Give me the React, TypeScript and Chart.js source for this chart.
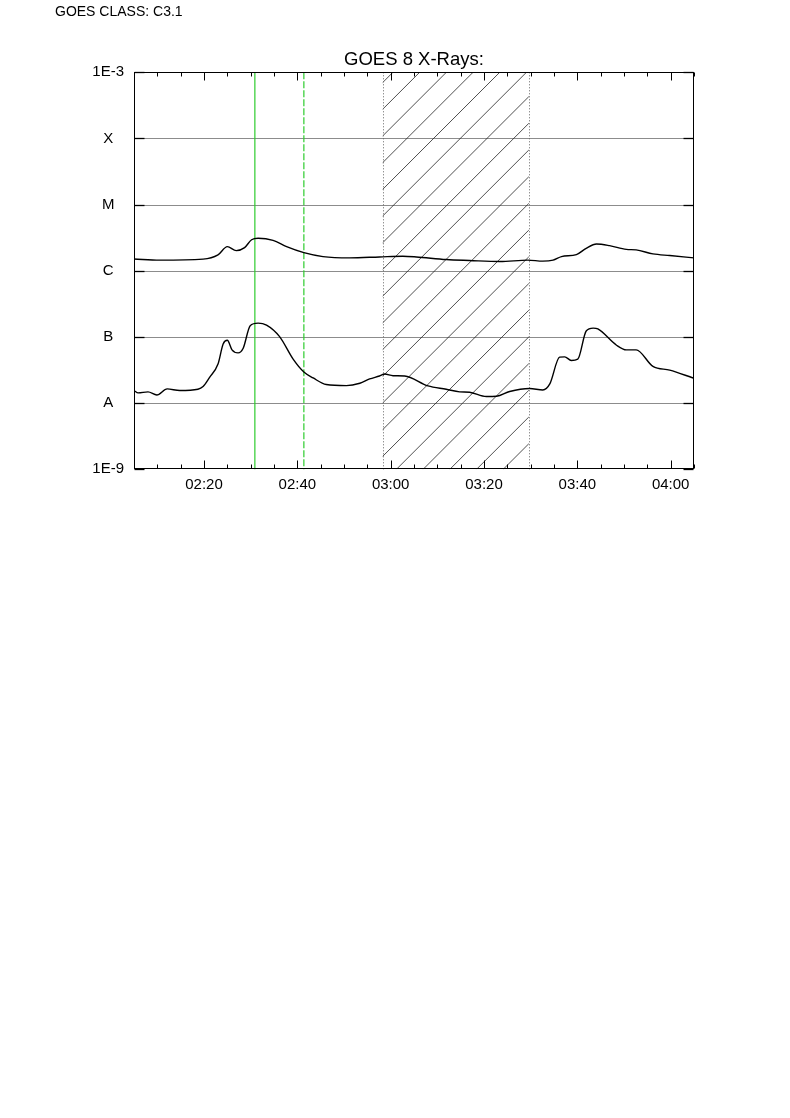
import { useEffect, useRef } from "react";
import { Chart, registerables } from "chart.js";

Chart.register(...registerables);

const FONT = '"Liberation Sans", Arial, Helvetica, sans-serif';

const classText = "GOES CLASS: C3.1";
const titleText = "GOES 8 X-Rays:";

// time axis in minutes after 00:00 UT
const xMin = 125; // 02:05
const xMax = 245; // 04:05
const xTickValues = [
  125, 130, 135, 140, 145, 150, 155, 160, 165, 170, 175, 180, 185,
  190, 195, 200, 205, 210, 215, 220, 225, 230, 235, 240, 245,
];
const xMajorTicks = [140, 160, 180, 200, 220, 240];

const yTickValues = [1e-9, 1e-8, 1e-7, 1e-6, 1e-5, 1e-4, 1e-3];
const yTickLabels = ["1E-9", "A", "B", "C", "M", "X", "1E-3"];

// long channel (1-8 A)
const longTimes = [
  125.0, 130.5, 139.8, 143.0, 145.0, 146.9, 148.7, 150.2, 151.6, 154.8,
  157.7, 161.4, 165.5, 171.2, 177.6, 182.6, 185.5, 191.9, 196.9, 203.4,
  209.4, 212.6, 214.8, 216.6, 219.8, 221.9, 224.1, 226.9, 230.5, 232.6,
  236.2, 239.8, 245.0,
];
const longFlux = [
  1.51e-6, 1.45e-6, 1.5e-6, 1.74e-6, 2.32e-6, 2.02e-6, 2.24e-6, 2.95e-6, 3.1e-6, 2.88e-6,
  2.32e-6, 1.88e-6, 1.64e-6, 1.57e-6, 1.62e-6, 1.66e-6, 1.62e-6, 1.48e-6, 1.43e-6, 1.38e-6,
  1.45e-6, 1.4e-6, 1.45e-6, 1.64e-6, 1.76e-6, 2.19e-6, 2.54e-6, 2.4e-6, 2.11e-6, 2.07e-6,
  1.8e-6, 1.7e-6, 1.57e-6,
];

// short channel (0.5-4 A)
const shortTimes = [
  125.0, 125.9, 128.0, 129.9, 132.1, 134.8, 138.7, 139.8, 141.2, 143.0,
  144.1, 145.0, 146.0, 147.3, 148.4, 149.9, 151.6, 153.4, 156.2, 159.1,
  161.4, 163.4, 166.2, 170.5, 173.4, 175.5, 177.6, 178.7, 180.5, 183.0,
  188.0, 191.9, 194.8, 196.9, 200.5, 202.7, 205.5, 209.8, 212.6, 214.1,
  216.2, 217.3, 218.7, 220.1, 221.9, 223.4, 224.4, 228.4, 230.5, 232.6,
  236.2, 239.8, 244.8,
];
const shortFlux = [
  1.55e-8, 1.43e-8, 1.48e-8, 1.33e-8, 1.64e-8, 1.55e-8, 1.62e-8, 1.78e-8, 2.45e-8, 3.89e-8,
  7.85e-8, 8.91e-8, 6.38e-8, 5.75e-8, 6.76e-8, 1.48e-7, 1.62e-7, 1.51e-7, 1.01e-7, 4.62e-8,
  2.95e-8, 2.4e-8, 1.91e-8, 1.84e-8, 2.0e-8, 2.32e-8, 2.57e-8, 2.75e-8, 2.6e-8, 2.57e-8,
  1.82e-8, 1.62e-8, 1.48e-8, 1.46e-8, 1.26e-8, 1.27e-8, 1.5e-8, 1.66e-8, 1.58e-8, 1.95e-8,
  4.95e-8, 5.01e-8, 4.42e-8, 4.62e-8, 1.23e-7, 1.36e-7, 1.32e-7, 7.5e-8, 6.38e-8, 6.38e-8,
  3.59e-8, 3.16e-8, 2.4e-8,
];

// event markers (minutes after 00:00)
const markerSolid = 150.9;
const markerDashed = 161.4;
const hatchStart = 178.3;
const hatchEnd = 209.6;

function fmtTime(v: number): string {
  const h = Math.floor(v / 60);
  const m = Math.round(v - h * 60);
  return String(h).padStart(2, "0") + ":" + String(m).padStart(2, "0");
}

function seg(ctx: CanvasRenderingContext2D, x1: number, y1: number, x2: number, y2: number) {
  ctx.beginPath();
  ctx.moveTo(x1, y1);
  ctx.lineTo(x2, y2);
  ctx.stroke();
}

const overlay = {
  id: "overlay",
  beforeDatasetsDraw(chart: any) {
    const { ctx, chartArea: a, scales } = chart;
    const x = scales.x;
    const y = scales.y;
    ctx.save();
    // horizontal class grid lines
    ctx.strokeStyle = "#8c8c8c";
    ctx.lineWidth = 1;
    for (const v of yTickValues.slice(1, -1)) {
      const py = Math.round(y.getPixelForValue(v)) + 0.5;
      seg(ctx, a.left, py, a.right, py);
    }
    // hatched interval
    const hx1 = x.getPixelForValue(hatchStart);
    const hx2 = x.getPixelForValue(hatchEnd);
    ctx.save();
    ctx.beginPath();
    ctx.rect(hx1, a.top, hx2 - hx1, a.bottom - a.top);
    ctx.clip();
    ctx.strokeStyle = "#222";
    ctx.lineWidth = 0.8;
    const spacing = 26.7;
    let c = hx1 + a.bottom + 13.7;
    while (c > hx1 + a.top) c -= spacing;
    for (; c < hx2 + a.bottom + spacing; c += spacing) {
      seg(ctx, c - a.bottom, a.bottom, c - a.top, a.top);
    }
    ctx.restore();
    // dotted interval borders
    ctx.strokeStyle = "#666";
    ctx.lineWidth = 1;
    ctx.setLineDash([1, 2]);
    seg(ctx, Math.round(hx1) + 0.5, a.top, Math.round(hx1) + 0.5, a.bottom);
    seg(ctx, Math.round(hx2) + 0.5, a.top, Math.round(hx2) + 0.5, a.bottom);
    // green markers
    ctx.strokeStyle = "#2ecc2e";
    ctx.lineWidth = 1.2;
    ctx.setLineDash([]);
    const g1 = x.getPixelForValue(markerSolid);
    seg(ctx, g1, a.top, g1, a.bottom);
    ctx.setLineDash([7, 2]);
    const g2 = x.getPixelForValue(markerDashed);
    seg(ctx, g2, a.top, g2, a.bottom);
    ctx.restore();
  },
  afterDatasetsDraw(chart: any) {
    const { ctx, chartArea: a, scales } = chart;
    const x = scales.x;
    const y = scales.y;
    ctx.save();
    ctx.strokeStyle = "#000";
    ctx.lineWidth = 1;
    ctx.setLineDash([]);
    const L = Math.round(a.left) + 0.5;
    const R = Math.round(a.right) - 0.5;
    const T = Math.round(a.top) + 0.5;
    const B = Math.round(a.bottom) - 0.5;
    ctx.strokeRect(L, T, R - L, B - T);
    // y ticks on both sides
    ctx.lineWidth = 1.3;
    for (const v of yTickValues) {
      const py = Math.round(y.getPixelForValue(v)) + 0.5;
      seg(ctx, L, py, L + 10, py);
      seg(ctx, R - 10, py, R, py);
    }
    // x ticks top and bottom
    ctx.lineWidth = 1;
    for (const t of x.ticks) {
      const px = Math.round(x.getPixelForValue(t.value)) + 0.5;
      const len = xMajorTicks.includes(t.value) ? 8 : 4;
      seg(ctx, px, B, px, B - len);
      seg(ctx, px, T, px, T + len);
    }
    // class text
    ctx.fillStyle = "#000";
    ctx.font = "14px " + FONT;
    ctx.textBaseline = "middle";
    ctx.textAlign = "left";
    ctx.fillText(classText, 55, 12.5);
    ctx.restore();
  },
};

export default function App() {
  const ref = useRef<HTMLCanvasElement | null>(null);
  useEffect(() => {
    if (!ref.current) return;
    const chart = new Chart(ref.current, {
      type: "line",
      data: {
        datasets: [
          {
            data: longTimes.map((t, i) => ({ x: t, y: longFlux[i] })),
            borderColor: "#000",
            borderWidth: 1.4,
            pointRadius: 0,
            cubicInterpolationMode: "monotone",
            fill: false,
          },
          {
            data: shortTimes.map((t, i) => ({ x: t, y: shortFlux[i] })),
            borderColor: "#000",
            borderWidth: 1.4,
            pointRadius: 0,
            cubicInterpolationMode: "monotone",
            fill: false,
          },
        ],
      },
      options: {
        responsive: false,
        animation: false,
        events: [],
        layout: { padding: { left: 0, right: 96, top: 0, bottom: 10.7 } },
        plugins: {
          legend: { display: false },
          tooltip: { enabled: false },
          title: {
            display: true,
            text: titleText,
            fullSize: false,
            color: "#000",
            font: { family: FONT, size: 18.5, weight: "normal" },
            padding: { top: 48.9, bottom: 1.2 },
          },
        },
        scales: {
          x: {
            type: "linear",
            min: xMin,
            max: xMax,
            grid: { display: false, drawTicks: false },
            border: { display: false },
            ticks: {
              autoSkip: false,
              maxRotation: 0,
              padding: 7,
              color: "#000",
              font: { family: FONT, size: 15 },
              callback: (v: any) => (xMajorTicks.includes(Number(v)) ? fmtTime(Number(v)) : ""),
            },
            afterBuildTicks: (s: any) => {
              s.ticks = xTickValues.map((v) => ({ value: v }));
            },
            afterFit: (s: any) => {
              s.height = 40;
            },
          },
          y: {
            type: "logarithmic",
            min: 1e-9,
            max: 1e-3,
            grid: { display: false, drawTicks: false },
            border: { display: false },
            ticks: {
              crossAlign: "center",
              padding: 10,
              color: "#000",
              font: { family: FONT, size: 15 },
              callback: (v: any) => {
                const i = yTickValues.findIndex((t) => Math.abs(Math.log10(t) - Math.log10(Number(v))) < 0.01);
                return i >= 0 ? yTickLabels[i] : "";
              },
            },
            afterBuildTicks: (s: any) => {
              s.ticks = yTickValues.map((v) => ({ value: v }));
            },
            afterFit: (s: any) => {
              s.width = 134;
            },
          },
        },
      },
      plugins: [overlay],
    });
    return () => chart.destroy();
  }, []);
  return (
    <div style={{ position: "absolute", left: 0, top: 0, width: 790, height: 520 }}>
      <canvas ref={ref} width={790} height={520} />
    </div>
  );
}
